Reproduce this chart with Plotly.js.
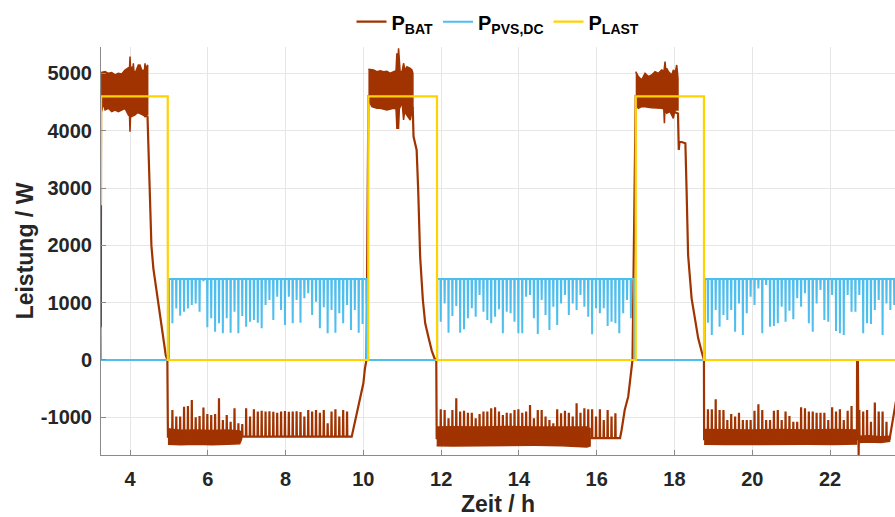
<!DOCTYPE html>
<html><head><meta charset="utf-8">
<script src="https://cdn.plot.ly/plotly-3.0.1.min.js"></script>
<style>html,body{margin:0;padding:0;background:#fff}#chart{width:895px;height:517px}</style>
</head><body><div id="chart"></div>
<script>
// ===== tick labels =====
const xTickVals = [4, 6, 8, 10, 12, 14, 16, 18, 20, 22];
const yTickVals = [-1000, 0, 1000, 2000, 3000, 4000, 5000];
const yTickText = ['-1000', '0', '1000', '2000', '3000', '4000', '5000'];

// ===== P_LAST (load) =====
const lastT = [3.25, 3.256, 4.97, 4.972, 10.125, 10.127, 11.893, 11.895, 17.003, 17.005, 18.757, 18.759, 23.7];
const lastP = [2700, 4600, 4600, 0, 0, 4600, 4600, 0, 0, 4600, 4600, 0, 0];

// ===== P_PVS,DC =====
const pvsLevel = 1415;
const pvsStartT = [3.25, 3.256];
const pvsStartP = [580, 0];
const pvsOn = [5.003, 11.90, 18.78];
const pvsOff = [10.09, 16.96, 23.7];
const spikeStart = [5.09, 11.99, 18.86];
const spikeStep = 0.0998;
const pvsDip1 = [640, 900, 773, 843, 900, 959, 988, 843, 1378, 570, 727, 494, 640, 465, 727, 477, 843, 465, 767, 581, 669, 698, 651, 552, 959, 1047, 698, 1105, 872, 610, 1105, 640, 1047, 651, 1076, 1163, 785, 1017, 552, 919, 465, 872, 477, 814, 640, 959, 523, 872, 477, 628, 988];
const pvsDip2 = [669, 988, 477, 767, 942, 477, 535, 727, 901, 756, 1134, 843, 698, 640, 756, 884, 465, 843, 814, 669, 465, 465, 1105, 1134, 727, 453, 1047, 785, 523, 930, 610, 988, 1134, 785, 988, 872, 1134, 930, 756, 448, 901, 814, 901, 593, 669, 640, 465, 814, 1047, 727];
const pvsDip3 = [651, 436, 872, 581, 785, 698, 872, 494, 988, 436, 814, 1105, 959, 1250, 465, 1308, 581, 593, 640, 930, 669, 860, 709, 1076, 930, 1163, 640, 494, 988, 1221, 698, 669, 1134, 506, 465, 436, 1134, 843, 843, 1134, 465, 640, 628, 872, 1047, 436, 988, 872, 959];

// ===== P_BAT =====
const batSeg1T = [3.25, 3.256, 4.45, 4.49, 4.52, 4.55, 4.60, 4.66, 4.72, 4.79, 4.86, 4.92, 4.96, 4.975];
const batSeg1P = [560, 4600, 4250, 3300, 2600, 2000, 1600, 1300, 1000, 650, 300, 80, 0, -1338];
const batSeg2T = [9.70, 9.76, 9.83, 9.91, 10.00, 10.04, 10.08, 10.13, 11.27, 11.29, 11.33, 11.37, 11.41, 11.46, 11.53, 11.59, 11.68, 11.76, 11.83, 11.875, 11.885];
const batSeg2P = [-1338, -1150, -930, -698, -407, -150, 0, 4600, 4400, 3900, 3781, 3665, 2967, 1803, 1047, 640, 380, 160, 30, 0, -1362];
const batSeg3T = [16.60, 16.64, 16.72, 16.81, 16.85, 16.89, 16.92, 17.003, 18.09, 18.11, 18.13, 18.20, 18.28, 18.31, 18.35, 18.44, 18.53, 18.61, 18.70, 18.74, 18.757, 18.762];
const batSeg3P = [-1362, -1222, -873, -640, -407, -116, 0, 4600, 4300, 3665, 3810, 3800, 3781, 2996, 1832, 1076, 727, 378, 145, 30, 0, -1380];
const batBigT = [22.69, 22.695, 22.715, 22.72, 22.735, 22.74];
const batBigP = [-1380, 0, 0, -1658, -1658, -1380];
const batEndT = [23.53, 23.58, 23.63, 23.70];
const batEndP = [-1380, -1200, -950, -700];
const batBase = [-1338, -1362, -1380];
const batTop1 = [-872, -988, -988, -814, -802, -698, -1000, -977, -831, -942, -959, -942, -669, -1047, -959, -1076, -843, -1105, -1116, -843, -988, -860, -901, -884, -901, -895, -905, -919, -901, -890, -905, -901, -895, -908, -988, -872, -901, -872, -919, -872, -1105, -901, -860, -988, -872, -901];
const batTop2 = [-860, -872, -1017, -872, -669, -901, -884, -919, -919, -1017, -942, -901, -901, -843, -826, -901, -959, -919, -930, -872, -860, -919, -901, -785, -1017, -872, -872, -988, -1047, -1105, -860, -930, -884, -919, -988, -756, -919, -843, -860, -860, -988, -860, -1047, -872, -988, -930];
const batTop3 = [-860, -860, -686, -872, -872, -1047, -942, -988, -919, -1047, -1047, -1047, -884, -773, -872, -1047, -1047, -884, -872, -1047, -901, -977, -1076, -1076, -826, -843, -901, -901, -919, -919, -919, -1047, -826, -901, -860, -1047, -884, -802, null, -872, -901, -872, -1076, -744, -901, -901, -1076];

// dense oscillation bands (envelopes)
const hi1UpT = [3.256, 3.358, 3.443, 3.529, 3.615, 3.700, 3.786, 3.872, 3.957, 3.985, 4.000, 4.015, 4.043, 4.070, 4.086, 4.10, 4.129, 4.214, 4.257, 4.300, 4.370, 4.386, 4.40, 4.454];
const hi1UpP = [5015, 5032, 5003, 5015, 4974, 5003, 4992, 5061, 5100, 5060, 5294, 5080, 5119, 5060, 5178, 5050, 5003, 5149, 5149, 5061, 5050, 5178, 5080, 5149];
const hi1LoT = [3.256, 3.315, 3.358, 3.443, 3.529, 3.615, 3.700, 3.786, 3.872, 3.957, 3.985, 4.000, 4.015, 4.043, 4.129, 4.214, 4.300, 4.386, 4.429, 4.454];
const hi1LoP = [4305, 4479, 4363, 4392, 4334, 4363, 4334, 4363, 4392, 4276, 4300, 3985, 4280, 4247, 4276, 4334, 4305, 4247, 4305, 4276];
const hi2UpT = [10.13, 10.263, 10.348, 10.434, 10.520, 10.605, 10.691, 10.777, 10.84, 10.862, 10.88, 10.905, 10.925, 10.948, 11.00, 11.034, 11.07, 11.120, 11.205, 11.248, 11.274];
const hi2UpP = [5072, 5061, 5032, 5047, 5032, 5040, 5003, 5032, 5050, 5352, 5100, 5440, 5080, 5003, 5050, 5178, 5060, 5119, 5090, 5061, 5003];
const hi2LoT = [10.13, 10.220, 10.348, 10.434, 10.605, 10.777, 10.84, 10.862, 10.905, 10.925, 10.948, 10.991, 11.02, 11.034, 11.06, 11.120, 11.205, 11.274];
const hi2LoP = [4538, 4421, 4392, 4392, 4363, 4392, 4380, 4043, 4043, 4380, 4421, 4538, 4350, 4188, 4330, 4276, 4188, 4421];
const hi3UpT = [17.003, 17.071, 17.157, 17.243, 17.328, 17.414, 17.500, 17.586, 17.671, 17.73, 17.757, 17.78, 17.800, 17.843, 17.928, 17.971, 18.02, 18.057, 18.08, 18.09];
const hi3UpP = [5032, 4945, 4887, 5003, 4945, 4974, 5032, 5003, 5061, 5040, 5206, 5030, 5090, 5032, 4974, 5061, 5020, 5148, 5000, 4916];
const hi3LoT = [17.003, 17.071, 17.157, 17.243, 17.414, 17.586, 17.671, 17.725, 17.740, 17.755, 17.800, 17.885, 17.971, 18.014, 18.09];
const hi3LoP = [4450, 4392, 4421, 4421, 4404, 4392, 4392, 4380, 4130, 4370, 4305, 4334, 4218, 4363, 4363];

const loBand1T = [4.975, 5.3, 5.7, 6.1, 6.5, 6.75, 6.82, 6.87];
const loBand1Hi = [-1200, -1225, -1220, -1230, -1222, -1230, -1240, -1260];
const loBand1Lo = [-1470, -1480, -1470, -1478, -1470, -1465, -1460, -1380];
const loBand2T = [11.885, 12.3, 13.0, 13.7, 14.4, 15.1, 15.75, 15.83];
const loBand2Hi = [-1170, -1165, -1170, -1160, -1170, -1165, -1170, -1200];
const loBand2Lo = [-1495, -1500, -1490, -1495, -1490, -1495, -1520, -1500];
const loBand3T = [18.762, 19.3, 20.0, 20.7, 21.4, 22.1, 22.68];
const loBand3Hi = [-1215, -1222, -1222, -1215, -1222, -1215, -1222];
const loBand3Lo = [-1470, -1475, -1470, -1475, -1470, -1475, -1465];
const loBand4T = [22.74, 23.0, 23.3, 23.53];
const loBand4Hi = [-1330, -1320, -1340, -1330];
const loBand4Lo = [-1440, -1430, -1440, -1420];

// ===== colours =====
const cBat = '#A03300', cPvs = '#4DBEEE', cLast = '#FFD200';

// ===== build helpers =====
function spikeSeries(start, step, vals, base, half) {
  const t = [], p = [];
  vals.forEach((v, i) => {
    if (v === null) return;
    const c = start + i * step;
    t.push(c - half, c, c + half); p.push(base, v, base);
  });
  return { t, p };
}
function sortPairs(t, p) {
  const idx = t.map((_, i) => i).sort((a, b) => t[a] - t[b]);
  return { t: idx.map(i => t[i]), p: idx.map(i => p[i]) };
}

let bT = [], bP = [];
bT.push(...batSeg1T); bP.push(...batSeg1P);
let s = spikeSeries(spikeStart[0], spikeStep, batTop1, batBase[0], 0.007);
bT.push(...s.t); bP.push(...s.p);
bT.push(...batSeg2T); bP.push(...batSeg2P);
s = spikeSeries(spikeStart[1], spikeStep, batTop2, batBase[1], 0.007);
bT.push(...s.t); bP.push(...s.p);
bT.push(...batSeg3T); bP.push(...batSeg3P);
s = spikeSeries(spikeStart[2], spikeStep, batTop3, batBase[2], 0.007);
let merged = sortPairs(s.t.concat(batBigT), s.p.concat(batBigP));
bT.push(...merged.t); bP.push(...merged.p);
bT.push(...batEndT); bP.push(...batEndP);

let pT = [...pvsStartT], pP = [...pvsStartP];
const pvsDips = [pvsDip1, pvsDip2, pvsDip3];
for (let k = 0; k < 3; k++) {
  pT.push(pvsOn[k] - 0.002, pvsOn[k]); pP.push(0, pvsLevel);
  const d = spikeSeries(spikeStart[k], spikeStep, pvsDips[k], pvsLevel, 0.007);
  pT.push(...d.t); pP.push(...d.p);
  pT.push(pvsOff[k]); pP.push(pvsLevel);
  if (k < 2) { pT.push(pvsOff[k] + 0.002); pP.push(0); }
}

function envPoly(upT, upP, loT, loP) {
  return { x: upT.concat(loT.slice().reverse()), y: upP.concat(loP.slice().reverse()) };
}
function bandPoly(T, H, L) { return envPoly(T, H, T, L); }

const bands = [
  envPoly(hi1UpT, hi1UpP, hi1LoT, hi1LoP),
  envPoly(hi2UpT, hi2UpP, hi2LoT, hi2LoP),
  envPoly(hi3UpT, hi3UpP, hi3LoT, hi3LoP),
  bandPoly(loBand1T, loBand1Hi, loBand1Lo),
  bandPoly(loBand2T, loBand2Hi, loBand2Lo),
  bandPoly(loBand3T, loBand3Hi, loBand3Lo),
  bandPoly(loBand4T, loBand4Hi, loBand4Lo)
];

const traces = bands.map(b => ({
  x: b.x, y: b.y, type: 'scatter', mode: 'lines', fill: 'toself',
  fillcolor: cBat, line: { color: cBat, width: 1.5 }, showlegend: false, hoverinfo: 'skip'
}));
traces.push({ x: bT, y: bP, type: 'scatter', mode: 'lines', name: 'P<sub>BAT</sub>', line: { color: cBat, width: 2.2 } });
traces.push({ x: pT, y: pP, type: 'scatter', mode: 'lines', name: 'P<sub>PVS,DC</sub>', line: { color: cPvs, width: 2 } });
traces.push({ x: lastT, y: lastP, type: 'scatter', mode: 'lines', name: 'P<sub>LAST</sub>', line: { color: cLast, width: 2.2 } });

const fontFam = 'Liberation Sans, Arial, Helvetica, sans-serif';
const layout = {
  width: 895, height: 517,
  margin: { l: 101, r: 0, t: 47, b: 62 },
  paper_bgcolor: '#fff', plot_bgcolor: '#fff',
  font: { family: fontFam, size: 20, color: '#262626', weight: 'bold' },
  showlegend: true,
  legend: { orientation: 'h', x: 0.5, xanchor: 'center', y: 1.062, yanchor: 'middle',
    font: { family: fontFam, size: 20, color: '#000', weight: 'bold' }, itemwidth: 30, tracegroupgap: 0, bgcolor: 'rgba(0,0,0,0)' },
  xaxis: {
    range: [3.254, 23.67], tickmode: 'array', tickvals: xTickVals,
    showgrid: true, gridcolor: '#e6e6e6', gridwidth: 1, zeroline: false,
    showline: true, linecolor: '#8a8a8a', linewidth: 1,
    ticks: 'inside', ticklen: 5, tickcolor: '#8a8a8a',
    tickfont: { family: fontFam, size: 20, color: '#262626', weight: 'bold' },
    ticklabelstandoff: 6,
    title: { text: 'Zeit / h', font: { family: fontFam, size: 23, color: '#262626', weight: 'bold' }, standoff: 10 },
    automargin: false
  },
  yaxis: {
    range: [-1658, 5462], tickmode: 'array', tickvals: yTickVals, ticktext: yTickText,
    showgrid: true, gridcolor: '#e6e6e6', gridwidth: 1, zeroline: false,
    showline: true, linecolor: '#8a8a8a', linewidth: 1,
    ticks: 'inside', ticklen: 5, tickcolor: '#8a8a8a',
    tickfont: { family: fontFam, size: 20, color: '#262626', weight: 'bold' },
    ticklabelstandoff: 4,
    title: { text: 'Leistung / W', font: { family: fontFam, size: 23, color: '#262626', weight: 'bold' }, standoff: 0 },
    automargin: false
  }
};
Plotly.newPlot('chart', traces, layout, { staticPlot: true, displayModeBar: false });
</script></body></html>
